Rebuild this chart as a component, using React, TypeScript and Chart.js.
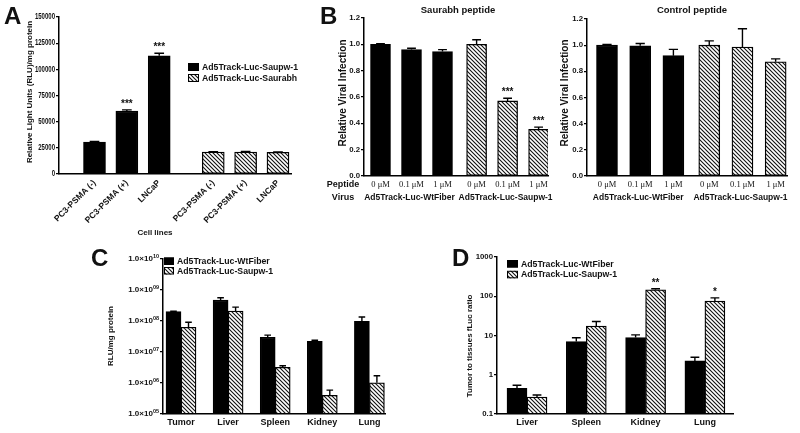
import React, { useEffect, useRef } from 'react';
import { Chart, registerables } from 'chart.js';
Chart.register(...registerables);

const SANS = '"Liberation Sans", Arial, Helvetica, sans-serif';
const SERIF = '"Liberation Serif", "Times New Roman", serif';
const INK = '#111';

// ---------- Panel A ----------
const cellLines = ['PC3-PSMA (-)', 'PC3-PSMA (+)', 'LNCaP'];
const aSaupwLabel = 'Ad5Track-Luc-Saupw-1';
const aSaurabhLabel = 'Ad5Track-Luc-Saurabh';
const aSaupw = [30500, 60000, 113000];
const aSaupwErr = [700, 1300, 2300];
const aSaupwStars = ['', '***', '***'];
const aSaurabh = [21000, 21000, 20700];
const aSaurabhErr = [400, 500, 400];
const aTicks = [0, 25000, 50000, 75000, 100000, 125000, 150000];

// ---------- Panel B ----------
const doses = ['0 μM', '0.1 μM', '1 μM'];
const viruses = ['Ad5Track-Luc-WtFiber', 'Ad5Track-Luc-Saupw-1'];
const bSaurabhWt = [1.0, 0.96, 0.945];
const bSaurabhWtErr = [0.005, 0.01, 0.015];
const bSaurabhSau = [1.0, 0.57, 0.355];
const bSaurabhSauErr = [0.035, 0.02, 0.016];
const bSaurabhStars = ['', '***', '***'];
const bControlWt = [1.0, 0.995, 0.92];
const bControlWtErr = [0.006, 0.018, 0.048];
const bControlSau = [1.0, 0.985, 0.873];
const bControlSauErr = [0.033, 0.14, 0.022];
const bTicks = [0, 0.2, 0.4, 0.6, 0.8, 1.0, 1.2];

// ---------- Panel C ----------
const tissuesC = ['Tumor', 'Liver', 'Spleen', 'Kidney', 'Lung'];
const cWt = [2.0e8, 4.7e8, 3.0e7, 2.2e7, 9.8e7];
const cWtErr = [0.06e8, 0.9e8, 0.5e7, 0.2e7, 3.7e7];
const cSau = [6.3e7, 2.1e8, 3.2e6, 4.0e5, 1.02e6];
const cSauErr = [2.8e7, 0.7e8, 0.4e6, 1.9e5, 0.7e6];
const cTicks = [1e5, 1e6, 1e7, 1e8, 1e9, 1e10];

// ---------- Panel D ----------
const tissuesD = ['Liver', 'Spleen', 'Kidney', 'Lung'];
const dWt = [0.45, 7.0, 8.9, 2.25];
const dWtErr = [0.09, 1.8, 1.5, 0.55];
const dSau = [0.27, 17.4, 146, 75];
const dSauErr = [0.035, 5.3, 9, 16];
const dSauStars = ['', '', '**', '*'];
const dTicks = [0.1, 1, 10, 100, 1000];

const W = 800, H = 433;

function hatch(): CanvasPattern {
  const s = 4;
  const c = document.createElement('canvas');
  c.width = s; c.height = s;
  const g = c.getContext('2d')!;
  g.fillStyle = '#fff'; g.fillRect(0, 0, s, s);
  g.strokeStyle = '#111'; g.lineWidth = 1.1;
  g.beginPath();
  g.moveTo(-1, -1); g.lineTo(s + 1, s + 1);
  g.moveTo(-1, s - 1); g.lineTo(1, s + 1);
  g.moveTo(s - 1, -1); g.lineTo(s + 1, 1);
  g.stroke();
  return g.createPattern(c, 'repeat')!;
}

function putText(ctx: CanvasRenderingContext2D, t: any) {
  ctx.save();
  ctx.fillStyle = t.color || INK;
  ctx.font = `${t.weight || 'bold'} ${t.size}px ${t.family || SANS}`;
  ctx.textAlign = t.align || 'center';
  ctx.textBaseline = t.baseline || 'middle';
  ctx.translate(t.x, t.y);
  if (t.rot) ctx.rotate(t.rot);
  if (t.sx) ctx.scale(t.sx, 1);
  ctx.fillText(t.t, 0, 0);
  ctx.restore();
}

const extras = {
  id: 'extras',
  afterDatasetsDraw(chart: any) {
    const ctx = chart.ctx as CanvasRenderingContext2D;
    const ys = chart.scales.y;
    chart.data.datasets.forEach((ds: any, di: number) => {
      const meta = chart.getDatasetMeta(di);
      meta.data.forEach((el: any, i: number) => {
        const v = ds.data[i].y, e = ds.errs[i];
        const top = ys.getPixelForValue(v + e);
        const hw = el.width * 0.22;
        ctx.save();
        ctx.strokeStyle = '#000'; ctx.lineWidth = 1.4;
        ctx.beginPath();
        ctx.moveTo(el.x, el.y); ctx.lineTo(el.x, top);
        ctx.moveTo(el.x - hw, top); ctx.lineTo(el.x + hw, top);
        ctx.stroke();
        const s = ds.stars && ds.stars[i];
        if (s) {
          ctx.fillStyle = INK;
          ctx.font = `bold 10px ${SANS}`;
          ctx.textAlign = 'center'; ctx.textBaseline = 'alphabetic';
          ctx.fillText(s, el.x, top - 3);
        }
        ctx.restore();
      });
    });
  },
  afterDraw(chart: any, _a: any, o: any) {
    const ctx = chart.ctx as CanvasRenderingContext2D;
    (o.texts || []).forEach((t: any) => putText(ctx, t));
    if (o.legend) {
      const L = o.legend;
      chart.data.datasets.forEach((ds: any, i: number) => {
        const y = L.y + i * L.rowH;
        ctx.save();
        ctx.fillStyle = ds.backgroundColor; ctx.fillRect(L.x, y, L.bw, L.bh);
        ctx.strokeStyle = '#000'; ctx.lineWidth = 1;
        ctx.strokeRect(L.x + 0.5, y + 0.5, L.bw - 1, L.bh - 1);
        ctx.restore();
        putText(ctx, { t: ds.label, x: L.x + L.bw + L.gap, y: y + L.bh / 2 + 0.5, size: L.size, align: 'left' });
      });
    }
    if (o.groups) {
      const xs = chart.scales.x;
      o.groups.labels.forEach((lab: string, gi: number) => {
        const pos = o.groups.pos[gi];
        const cx = (xs.getPixelForValue(pos[0]) + xs.getPixelForValue(pos[pos.length - 1])) / 2;
        putText(ctx, { t: lab, x: cx + (o.groups.dx || 0), y: o.groups.y, size: o.groups.size });
      });
    }
    const ys = chart.scales.y;
    if (o.narrowTicks) {
      const N = o.narrowTicks;
      ys.ticks.forEach((tk: any) => {
        putText(ctx, { t: String(tk.value), x: chart.chartArea.left - N.gap, y: ys.getPixelForValue(tk.value), size: N.size, align: 'right', sx: N.sx });
      });
    }
    if (o.supTicks) {
      const S = o.supTicks;
      ys.ticks.forEach((tk: any) => {
        const y = ys.getPixelForValue(tk.value);
        const exp = String(Math.round(Math.log10(tk.value))).padStart(2, '0');
        ctx.save();
        ctx.fillStyle = INK;
        ctx.textBaseline = 'middle';
        ctx.textAlign = 'right';
        ctx.font = `bold ${S.supSize}px ${SANS}`;
        const ew = ctx.measureText(exp).width;
        const right = chart.chartArea.left - S.gap;
        ctx.fillText(exp, right, y - S.raise);
        ctx.font = `bold ${S.size}px ${SANS}`;
        ctx.fillText('1.0×10', right - ew, y);
        ctx.restore();
      });
    }
  },
};

function buildOptions(p: any) {
  const { box } = p;
  return {
    responsive: false,
    animation: false,
    devicePixelRatio: 1,
    layout: { padding: { left: box.L - p.yW, top: box.T, right: W - box.R, bottom: H - box.B - p.xH } },
    plugins: { legend: { display: false }, tooltip: { enabled: false }, extras: p.extras },
    scales: {
      x: {
        type: 'linear',
        offset: false,
        bounds: 'data',
        min: (box.L - p.c0) / p.sp,
        max: (box.R - p.c0) / p.sp,
        afterBuildTicks: (s: any) => { s.ticks = p.xPos.map((v: number) => ({ value: v })); },
        afterFit: (s: any) => { s.height = p.xH; },
        ticks: {
          autoSkip: false, minRotation: p.xRot || 0, maxRotation: p.xRot || 0,
          padding: p.xPad, font: p.xFont, color: INK,
          callback: (_v: any, i: number) => p.xLabels[i],
        },
        grid: { display: false, drawTicks: false, offset: false },
        border: { color: '#000', width: 1.5 },
      },
      y: {
        type: p.yType,
        min: p.yMin,
        max: p.yMax,
        afterBuildTicks: (s: any) => { s.ticks = p.yTicks.map((v: number) => ({ value: v })); },
        afterFit: (s: any) => { s.width = p.yW; },
        ticks: { autoSkip: false, padding: 1, font: { family: SANS, size: p.yFontSize || 7.3, weight: 'bold' }, color: INK, callback: p.yFmt },
        grid: { drawOnChartArea: false, drawTicks: true, tickLength: 3, color: '#000', lineWidth: 1.2 },
        border: { color: '#000', width: 1.5 },
      },
    },
  };
}

const barStyle = (fill: any, thick: number) => ({
  backgroundColor: fill, borderColor: '#000', borderWidth: 1.3, borderSkipped: false, barThickness: thick,
});

function buildA(canvas: HTMLCanvasElement) {
  const gap = 0.67;
  const hx = cellLines.map((_, i) => 3 + gap + i);
  const pat = hatch();
  return new Chart(canvas, {
    type: 'bar',
    data: {
      datasets: [
        { label: aSaupwLabel, data: aSaupw.map((y, i) => ({ x: i, y })), errs: aSaupwErr, stars: aSaupwStars, grouped: false, ...barStyle('#000', 22) } as any,
        { label: aSaurabhLabel, data: aSaurabh.map((y, i) => ({ x: hx[i], y })), errs: aSaurabhErr, grouped: false, ...barStyle(pat, 22) } as any,
      ],
    },
    options: buildOptions({
      box: { L: 59, T: 17, R: 291, B: 174 }, yW: 40, xH: 60, c0: 94.5, sp: 32.36,
      xPos: [0, 1, 2, ...hx], xLabels: [...cellLines, ...cellLines], xRot: 45, xPad: 4,
      xFont: { family: SANS, size: 8.5, weight: 'bold' },
      yType: 'linear', yMin: 0, yMax: 150000, yTicks: aTicks, yFmt: () => '',
      extras: {
        texts: [
          { t: 'A', x: 4, y: 17, size: 24, align: 'left' },
          { t: 'Relative Light Units (RLU)/mg protein', x: 30, y: 92, size: 8, rot: -Math.PI / 2 },
          { t: 'Cell lines', x: 155, y: 233, size: 8 },
        ],
        legend: { x: 188, y: 63, rowH: 11, bw: 11, bh: 8, gap: 3, size: 8.7 },
        narrowTicks: { size: 8.4, sx: 0.72, gap: 4 },
      },
    }) as any,
    plugins: [extras as any],
  });
}

function buildB(canvas: HTMLCanvasElement, cfg: any) {
  const pat = hatch();
  const hx = doses.map((_, i) => 3 + cfg.gap + i);
  const texts: any[] = [
    { t: cfg.title, x: cfg.titleX, y: 10, size: 9.5 },
    { t: 'Relative Viral Infection', x: cfg.yTitleX, y: 93, size: 10, rot: -Math.PI / 2 },
  ];
  if (cfg.heads) {
    texts.push({ t: 'B', x: 320, y: 17, size: 24, align: 'left' });
    texts.push({ t: 'Peptide', x: 343, y: 185, size: 9 });
    texts.push({ t: 'Virus', x: 343, y: 198, size: 9 });
  }
  return new Chart(canvas, {
    type: 'bar',
    data: {
      datasets: [
        { label: viruses[0], data: cfg.wt.map((y: number, i: number) => ({ x: i, y })), errs: cfg.wtErr, grouped: false, ...barStyle('#000', cfg.thick) } as any,
        { label: viruses[1], data: cfg.sau.map((y: number, i: number) => ({ x: hx[i], y })), errs: cfg.sauErr, stars: cfg.stars, grouped: false, ...barStyle(pat, cfg.thick) } as any,
      ],
    },
    options: buildOptions({
      box: cfg.box, yW: 25, xH: 30, c0: cfg.c0, sp: cfg.sp,
      xPos: [0, 1, 2, ...hx], xLabels: [...doses, ...doses], xPad: 4,
      xFont: { family: SERIF, size: 8.5, weight: 'normal' },
      yType: 'linear', yMin: 0, yMax: 1.2, yTicks: bTicks, yFmt: (v: number) => v.toFixed(1), yFontSize: 7.8,
      extras: {
        texts,
        groups: { labels: viruses, pos: [[0, 1, 2], hx], y: 198, size: 8.5, dx: -2 },
      },
    }) as any,
    plugins: [extras as any],
  });
}

function buildC(canvas: HTMLCanvasElement) {
  const pat = hatch();
  const xs = tissuesC.map((_, i) => i);
  return new Chart(canvas, {
    type: 'bar',
    data: {
      datasets: [
        { label: viruses[0], data: cWt.map((y, i) => ({ x: xs[i], y })), errs: cWtErr, ...barStyle('#000', 15) } as any,
        { label: viruses[1], data: cSau.map((y, i) => ({ x: xs[i], y })), errs: cSauErr, ...barStyle(pat, 15) } as any,
      ],
    },
    options: buildOptions({
      box: { L: 163, T: 259, R: 385, B: 414 }, yW: 45, xH: 18, c0: 181, sp: 47.1,
      xPos: xs, xLabels: tissuesC, xPad: 3.6,
      xFont: { family: SANS, size: 9, weight: 'bold' },
      yType: 'logarithmic', yMin: 1e5, yMax: 1e10, yTicks: cTicks, yFontSize: 7.5,
      yFmt: () => '',
      extras: {
        texts: [
          { t: 'C', x: 91, y: 259, size: 24, align: 'left' },
          { t: 'RLU/mg protein', x: 111, y: 336, size: 8, rot: -Math.PI / 2 },
        ],
        legend: { x: 164, y: 257.5, rowH: 9.5, bw: 10, bh: 7.5, gap: 3, size: 8.7 },
        supTicks: { size: 8, supSize: 5.5, gap: 4, raise: 3 },
      },
    }) as any,
    plugins: [extras as any],
  });
}

function buildD(canvas: HTMLCanvasElement) {
  const pat = hatch();
  const xs = tissuesD.map((_, i) => i);
  return new Chart(canvas, {
    type: 'bar',
    data: {
      datasets: [
        { label: viruses[0], data: dWt.map((y, i) => ({ x: xs[i], y })), errs: dWtErr, ...barStyle('#000', 20) } as any,
        { label: viruses[1], data: dSau.map((y, i) => ({ x: xs[i], y })), errs: dSauErr, stars: dSauStars, ...barStyle(pat, 20) } as any,
      ],
    },
    options: buildOptions({
      box: { L: 497, T: 257, R: 733, B: 414 }, yW: 30, xH: 18, c0: 527, sp: 59.3,
      xPos: xs, xLabels: tissuesD, xPad: 3.6,
      xFont: { family: SANS, size: 9, weight: 'bold' },
      yType: 'logarithmic', yMin: 0.1, yMax: 1000, yTicks: dTicks, yFontSize: 7.8,
      yFmt: (v: number) => String(v),
      extras: {
        texts: [
          { t: 'D', x: 452, y: 259, size: 24, align: 'left' },
          { t: 'Tumor to tissues fLuc ratio', x: 470, y: 346, size: 8, rot: -Math.PI / 2 },
        ],
        legend: { x: 507, y: 260, rowH: 10.8, bw: 11, bh: 7.5, gap: 3, size: 8.7 },
      },
    }) as any,
    plugins: [extras as any],
  });
}

function Panel({ build }: { build: (c: HTMLCanvasElement) => Chart }) {
  const ref = useRef<HTMLCanvasElement>(null);
  useEffect(() => {
    const ch = build(ref.current!);
    return () => ch.destroy();
  }, []);
  return <canvas ref={ref} width={W} height={H} style={{ position: 'absolute', left: 0, top: 0, width: W, height: H }} />;
}

export default function App() {
  return (
    <div style={{ position: 'fixed', left: 0, top: 0, width: W, height: H, background: '#fff', overflow: 'hidden' }}>
      <Panel build={buildA} />
      <Panel build={(c) => buildB(c, {
        box: { L: 364, T: 18, R: 548, B: 176 }, c0: 380.5, sp: 31, gap: 0.1, thick: 20,
        wt: bSaurabhWt, wtErr: bSaurabhWtErr, sau: bSaurabhSau, sauErr: bSaurabhSauErr, stars: bSaurabhStars,
        title: 'Saurabh peptide', titleX: 458, yTitleX: 343, heads: true,
      })} />
      <Panel build={(c) => buildB(c, {
        box: { L: 587, T: 19, R: 787, B: 176 }, c0: 607, sp: 33.2, gap: 0.08, thick: 21,
        wt: bControlWt, wtErr: bControlWtErr, sau: bControlSau, sauErr: bControlSauErr, stars: ['', '', ''],
        title: 'Control peptide', titleX: 692, yTitleX: 565, heads: false,
      })} />
      <Panel build={buildC} />
      <Panel build={buildD} />
    </div>
  );
}
